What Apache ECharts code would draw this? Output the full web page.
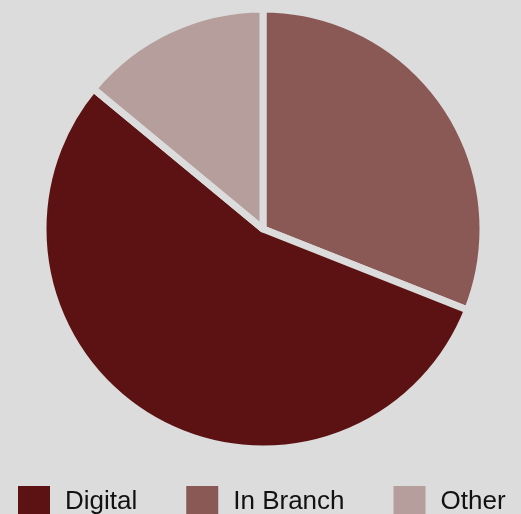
<!DOCTYPE html>
<html>
<head>
<meta charset="utf-8">
<script src="https://cdn.jsdelivr.net/npm/echarts@6/dist/echarts.min.js"></script>
<style>
  html, body { margin: 0; padding: 0; background: #dcdcdc; }
  #chart { width: 521px; height: 514px; }
</style>
</head>
<body>
<div id="chart"></div>
<script>
// legend order
const legendNames = ['Digital', 'In Branch', 'Other'];
// slices, clockwise from 12 o'clock
const sliceNames = ['In Branch', 'Digital', 'Other'];
const sliceValues = [31, 55, 14];
const sliceColors = {
  'Digital': '#5c1212',
  'In Branch': '#8a5955',
  'Other': '#b59e9c'
};

const myChart = echarts.init(document.getElementById('chart'));
myChart.setOption({
  backgroundColor: '#dcdcdc',
  animation: false,
  legend: {
    data: legendNames,
    top: 486,
    left: 18,
    padding: 0,
    itemWidth: 32,
    itemHeight: 32,
    itemGap: 49,
    icon: 'rect',
    itemStyle: { borderWidth: 0 },
    textStyle: {
      fontFamily: 'Liberation Sans, Arial, sans-serif',
      fontSize: 26,
      color: '#111',
      padding: [0, 0, 0, 10]
    }
  },
  series: [
    {
      type: 'pie',
      center: [263, 229],
      radius: 220,
      startAngle: 90,
      clockwise: true,
      label: { show: false },
      labelLine: { show: false },
      itemStyle: {
        borderColor: '#dcdcdc',
        borderWidth: 7
      },
      emphasis: { disabled: true },
      data: sliceNames.map((name, i) => ({
        name: name,
        value: sliceValues[i],
        itemStyle: { color: sliceColors[name] }
      }))
    }
  ]
});
</script>
</body>
</html>
